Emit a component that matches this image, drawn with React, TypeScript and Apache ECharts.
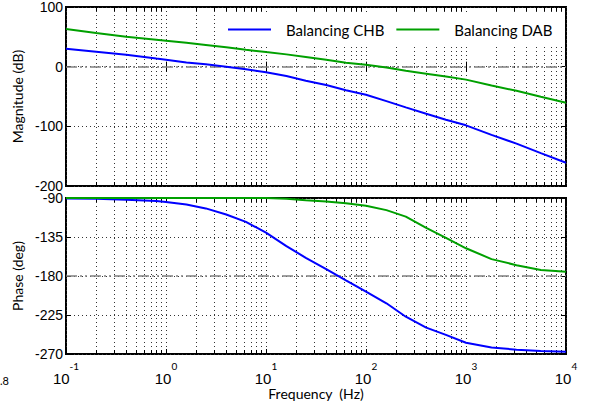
import React, { useEffect, useRef } from 'react';
import * as echarts from 'echarts';

// Frequency points (Hz)
const freqs = [0.1, 0.2, 0.4, 0.8, 1, 1.6, 2.5, 4, 6.3, 10, 16, 25, 40, 63, 100, 160, 250, 400, 630, 1000, 1800, 3200, 5600, 10000];
// Magnitude (dB)
const magCHB = [30, 25, 20, 13.5, 11.5, 7, 4, 0, -4.5, -9.5, -15.5, -23.5, -30.8, -39.4, -47.2, -57.7, -68.2, -79, -88.9, -98.3, -114.4, -129, -145, -161];
const magDAB = [63.3, 56.5, 50.2, 45, 43.3, 40, 36.3, 32.4, 28.3, 24.4, 20.6, 16.2, 11.5, 6.7, 3.3, -1.5, -7, -11.7, -16.5, -21.7, -31.5, -40.5, -50.5, -60.6];
// Phase (deg)
const phaseCHB = [-90.5, -91, -92, -93.5, -94.5, -97.5, -102, -109, -117.5, -130, -145.5, -159, -172, -185, -198, -211.5, -227, -239.5, -248, -257, -262.5, -265, -266.5, -267.5];
const phaseDAB = [-90, -90, -90, -90, -90, -90, -90, -90, -90, -90, -91, -92.5, -94, -96, -99, -104, -111.5, -124.5, -136, -148, -160.5, -167.5, -173, -175];

const seriesNames = ['Balancing CHB', 'Balancing DAB'];
const colors = ['#0000ff', '#00a000'];
const magRange = [-200, 100, 100];
const phaseRange = [-270, -90, 45];
const xRange = [0.1, 10000];
const magRef = 0;
const phaseRef = -180;

const minorFreqs: number[] = [];
for (let k = -1; k <= 3; k++) {
  for (let m = 2; m <= 9; m++) minorFreqs.push(m * Math.pow(10, k));
}

const DOT = [1, 3];
const DOT_COLOR = '#333';

function minorGrid(idx: number, yMin: number, yMax: number) {
  return {
    type: 'custom',
    xAxisIndex: idx * 2,
    yAxisIndex: idx * 2,
    silent: true,
    clip: false,
    z: 1,
    data: minorFreqs.map((f) => [f, yMin]),
    renderItem: (params: any, api: any) => {
      const f = api.value(0);
      const t = api.coord([f, yMax]);
      const b = api.coord([f, yMin]);
      const x = Math.round(t[0]) + 0.5;
      return {
        type: 'group',
        children: [
          { type: 'line', shape: { x1: x, y1: t[1], x2: x, y2: b[1] }, style: { stroke: DOT_COLOR, lineWidth: 1, lineDash: DOT } },
          { type: 'line', shape: { x1: x, y1: t[1], x2: x, y2: t[1] + 4 }, style: { stroke: '#000', lineWidth: 1 } },
          { type: 'line', shape: { x1: x, y1: b[1], x2: x, y2: b[1] - 4 }, style: { stroke: '#000', lineWidth: 1 } },
        ],
      };
    },
  };
}

function xAxes(grid: number, labels: boolean) {
  const base = {
    type: 'log',
    logBase: 10,
    gridIndex: grid,
    min: xRange[0],
    max: xRange[1],
    axisLine: { show: false },
    axisTick: { show: true, inside: true, length: 5, lineStyle: { color: '#000', width: 1 } },
  };
  return [
    {
      ...base,
      position: 'bottom',
      splitLine: { show: true, lineStyle: { color: DOT_COLOR, width: 1, type: DOT } },
      name: labels ? 'Frequency  (Hz)' : '',
      nameLocation: 'middle',
      nameGap: 32,
      nameTextStyle: { fontFamily: 'Lato', fontSize: 14, color: '#000' },
      axisLabel: labels
        ? {
            show: true,
            margin: 7,
            formatter: (v: number) => `{b|10}{e|${Math.round(Math.log10(v))}}`,
            rich: {
              b: { fontFamily: 'Liberation Sans', fontSize: 15, color: '#000', lineHeight: 25, verticalAlign: 'bottom' },
              e: { fontFamily: 'Lato', fontSize: 10, color: '#000', lineHeight: 10, verticalAlign: 'top' },
            },
          }
        : { show: false },
    },
    {
      ...base,
      position: 'top',
      splitLine: { show: false },
      axisLabel: { show: false },
    },
  ];
}

function yAxes(grid: number, range: number[], name: string) {
  const base = {
    type: 'value',
    gridIndex: grid,
    min: range[0],
    max: range[1],
    interval: range[2],
    axisLine: { show: false },
    axisTick: { show: true, inside: true, length: 5, lineStyle: { color: '#000', width: 1 } },
  };
  return [
    {
      ...base,
      position: 'left',
      name,
      nameLocation: 'middle',
      nameGap: 37,
      nameTextStyle: { fontFamily: 'Lato', fontSize: 14, color: '#000' },
      splitLine: { show: true, lineStyle: { color: DOT_COLOR, width: 1, type: DOT } },
      axisLabel: { show: true, margin: 3, fontFamily: 'Liberation Sans', fontSize: 14, color: '#000' },
    },
    {
      ...base,
      position: 'right',
      splitLine: { show: false },
      axisLabel: { show: false },
    },
  ];
}

function curve(name: string, color: string, values: number[], idx: number, ref: number | null) {
  const s: any = {
    name,
    type: 'line',
    xAxisIndex: idx * 2,
    yAxisIndex: idx * 2,
    data: freqs.map((f, i) => [f, values[i]]),
    symbol: 'none',
    showSymbol: false,
    clip: false,
    z: 3,
    lineStyle: { color, width: 2 },
    itemStyle: { color },
  };
  if (ref !== null) {
    s.markLine = {
      silent: true,
      symbol: 'none',
      label: { show: false },
      lineStyle: { color: '#808080', width: 1.5, type: [11, 3, 2, 3, 2, 3] },
      data: [{ yAxis: ref }],
      z: 2,
    };
  }
  return s;
}

export default function App() {
  const ref = useRef<HTMLDivElement>(null);
  useEffect(() => {
    if (!ref.current) return;
    const chart = echarts.init(ref.current, undefined, { renderer: 'svg' });
    chart.setOption({
      animation: false,
      backgroundColor: '#fff',
      grid: [
        { left: 66, top: 6, width: 500, height: 180, show: true, borderColor: '#000', borderWidth: 2, backgroundColor: 'transparent' },
        { left: 66, top: 198, width: 500, height: 156, show: true, borderColor: '#000', borderWidth: 2, backgroundColor: 'transparent' },
      ],
      xAxis: [...xAxes(0, false), ...xAxes(1, true)],
      yAxis: [...yAxes(0, magRange, 'Magnitude (dB)'), ...yAxes(1, phaseRange, 'Phase (deg)')],
      legend: {
        data: seriesNames.map((n) => ({ name: n, icon: 'rect' })),
        left: 216,
        top: 15,
        backgroundColor: '#fff',
        padding: [7, 12, 7, 12],
        itemWidth: 43,
        itemHeight: 2,
        itemGap: 12,
        textStyle: { fontFamily: 'Lato', fontSize: 15, color: '#000', padding: [0, 0, 0, 10] },
      },
      graphic: [
        { type: 'text', left: 0, top: 375, style: { text: '.8', fontFamily: 'Lato', fontSize: 11, fill: '#000' } },
      ],
      series: [
        minorGrid(0, magRange[0], magRange[1]),
        minorGrid(1, phaseRange[0], phaseRange[1]),
        curve(seriesNames[0], colors[0], magCHB, 0, magRef),
        curve(seriesNames[1], colors[1], magDAB, 0, null),
        curve(seriesNames[0], colors[0], phaseCHB, 1, phaseRef),
        curve(seriesNames[1], colors[1], phaseDAB, 1, null),
      ],
    });
    return () => chart.dispose();
  }, []);
  return <div ref={ref} style={{ position: 'fixed', left: 0, top: 0, width: 602, height: 411 }} />;
}
